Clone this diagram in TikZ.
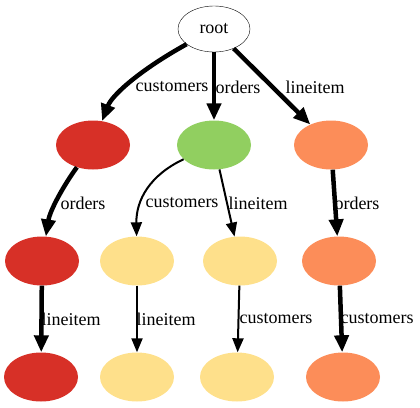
\documentclass[tikz,border=0pt]{standalone}
\usepackage{fontspec}
\setmainfont{Liberation Serif}
\usetikzlibrary{shapes.geometric}
\usetikzlibrary{arrows.meta}

\definecolor{redc}{HTML}{D73027}
\definecolor{orangec}{HTML}{FC8D59}
\definecolor{yellowc}{HTML}{FEE08B}
\definecolor{greenc}{HTML}{91CF60}

\begin{document}
\begin{tikzpicture}[x=1pt, y=-1pt, font=\fontsize{18}{20}\selectfont,
	leaf/.style={ellipse, minimum width=74pt, minimum height=49pt, inner sep=0pt},
	heavy/.style={line width=4.5pt, -{Triangle[length=17pt,width=14pt]}},
	light/.style={line width=2pt, -{Triangle[length=14pt,width=11pt]}}]
				
				\useasboundingbox (0,0) rectangle (420,407);
				
				\node[ellipse,draw,minimum width=72pt,minimum height=46pt,inner sep=0pt] (R) at (214,29) {root};
				
				\node[leaf,fill=redc] (A1) at (93,145) {};
				\node[leaf,fill=greenc] (B1) at (214,145) {};
				\node[leaf,fill=orangec] (C1) at (331,145) {};
				
				\draw[heavy] (R) .. controls (140,70) and (112,95) .. (A1);
				\draw[heavy] (R) -- (B1);
				\draw[heavy] (R) -- (C1);
				
				\node (LA1) at (172,87) {customers};
				\node (LB1) at (238,87) {orders};
				\node (LC1) at (315,87) {lineitem};
				
				\node[leaf,fill=redc] (A2) at (42,261) {};
				\node[leaf,fill=yellowc] (B2) at (137,261) {};
				\node[leaf,fill=yellowc] (D2) at (240,261) {};
				\node[leaf,fill=orangec] (C2) at (339,261) {};
				
				\draw[heavy] (A1) .. controls (64,185) and (50,210) .. (A2);
				\draw[light] (B1) .. controls (150,175) and (136,200) .. (B2);
				\draw[light] (B1) -- (D2);
				\draw[heavy] (C1) -- (C2);
				
				\node (LA2) at (83,203) {orders};
				\node (LB2) at (182,203) {customers};
				\node (LD2) at (258,203) {lineitem};
				\node (LC2) at (357,203) {orders};
				
				\node[leaf,fill=redc] (A3) at (41,377) {};
				\node[leaf,fill=yellowc] (B3) at (137,377) {};
				\node[leaf,fill=yellowc] (D3) at (237,377) {};
				\node[leaf,fill=orangec] (C3) at (343,377) {};
				
				\draw[heavy] (A2) -- (A3);
				\draw[light] (B2) -- (B3);
				\draw[light] (D2) -- (D3);
				\draw[heavy] (C2) -- (C3);
				
				\node (LA3) at (71,319) {lineitem};
				\node (LB3) at (166,319) {lineitem};
				\node (LD3) at (276,319) {customers};
				\node (LC3) at (377,319) {customers};
				
			\end{tikzpicture}
\end{document}
